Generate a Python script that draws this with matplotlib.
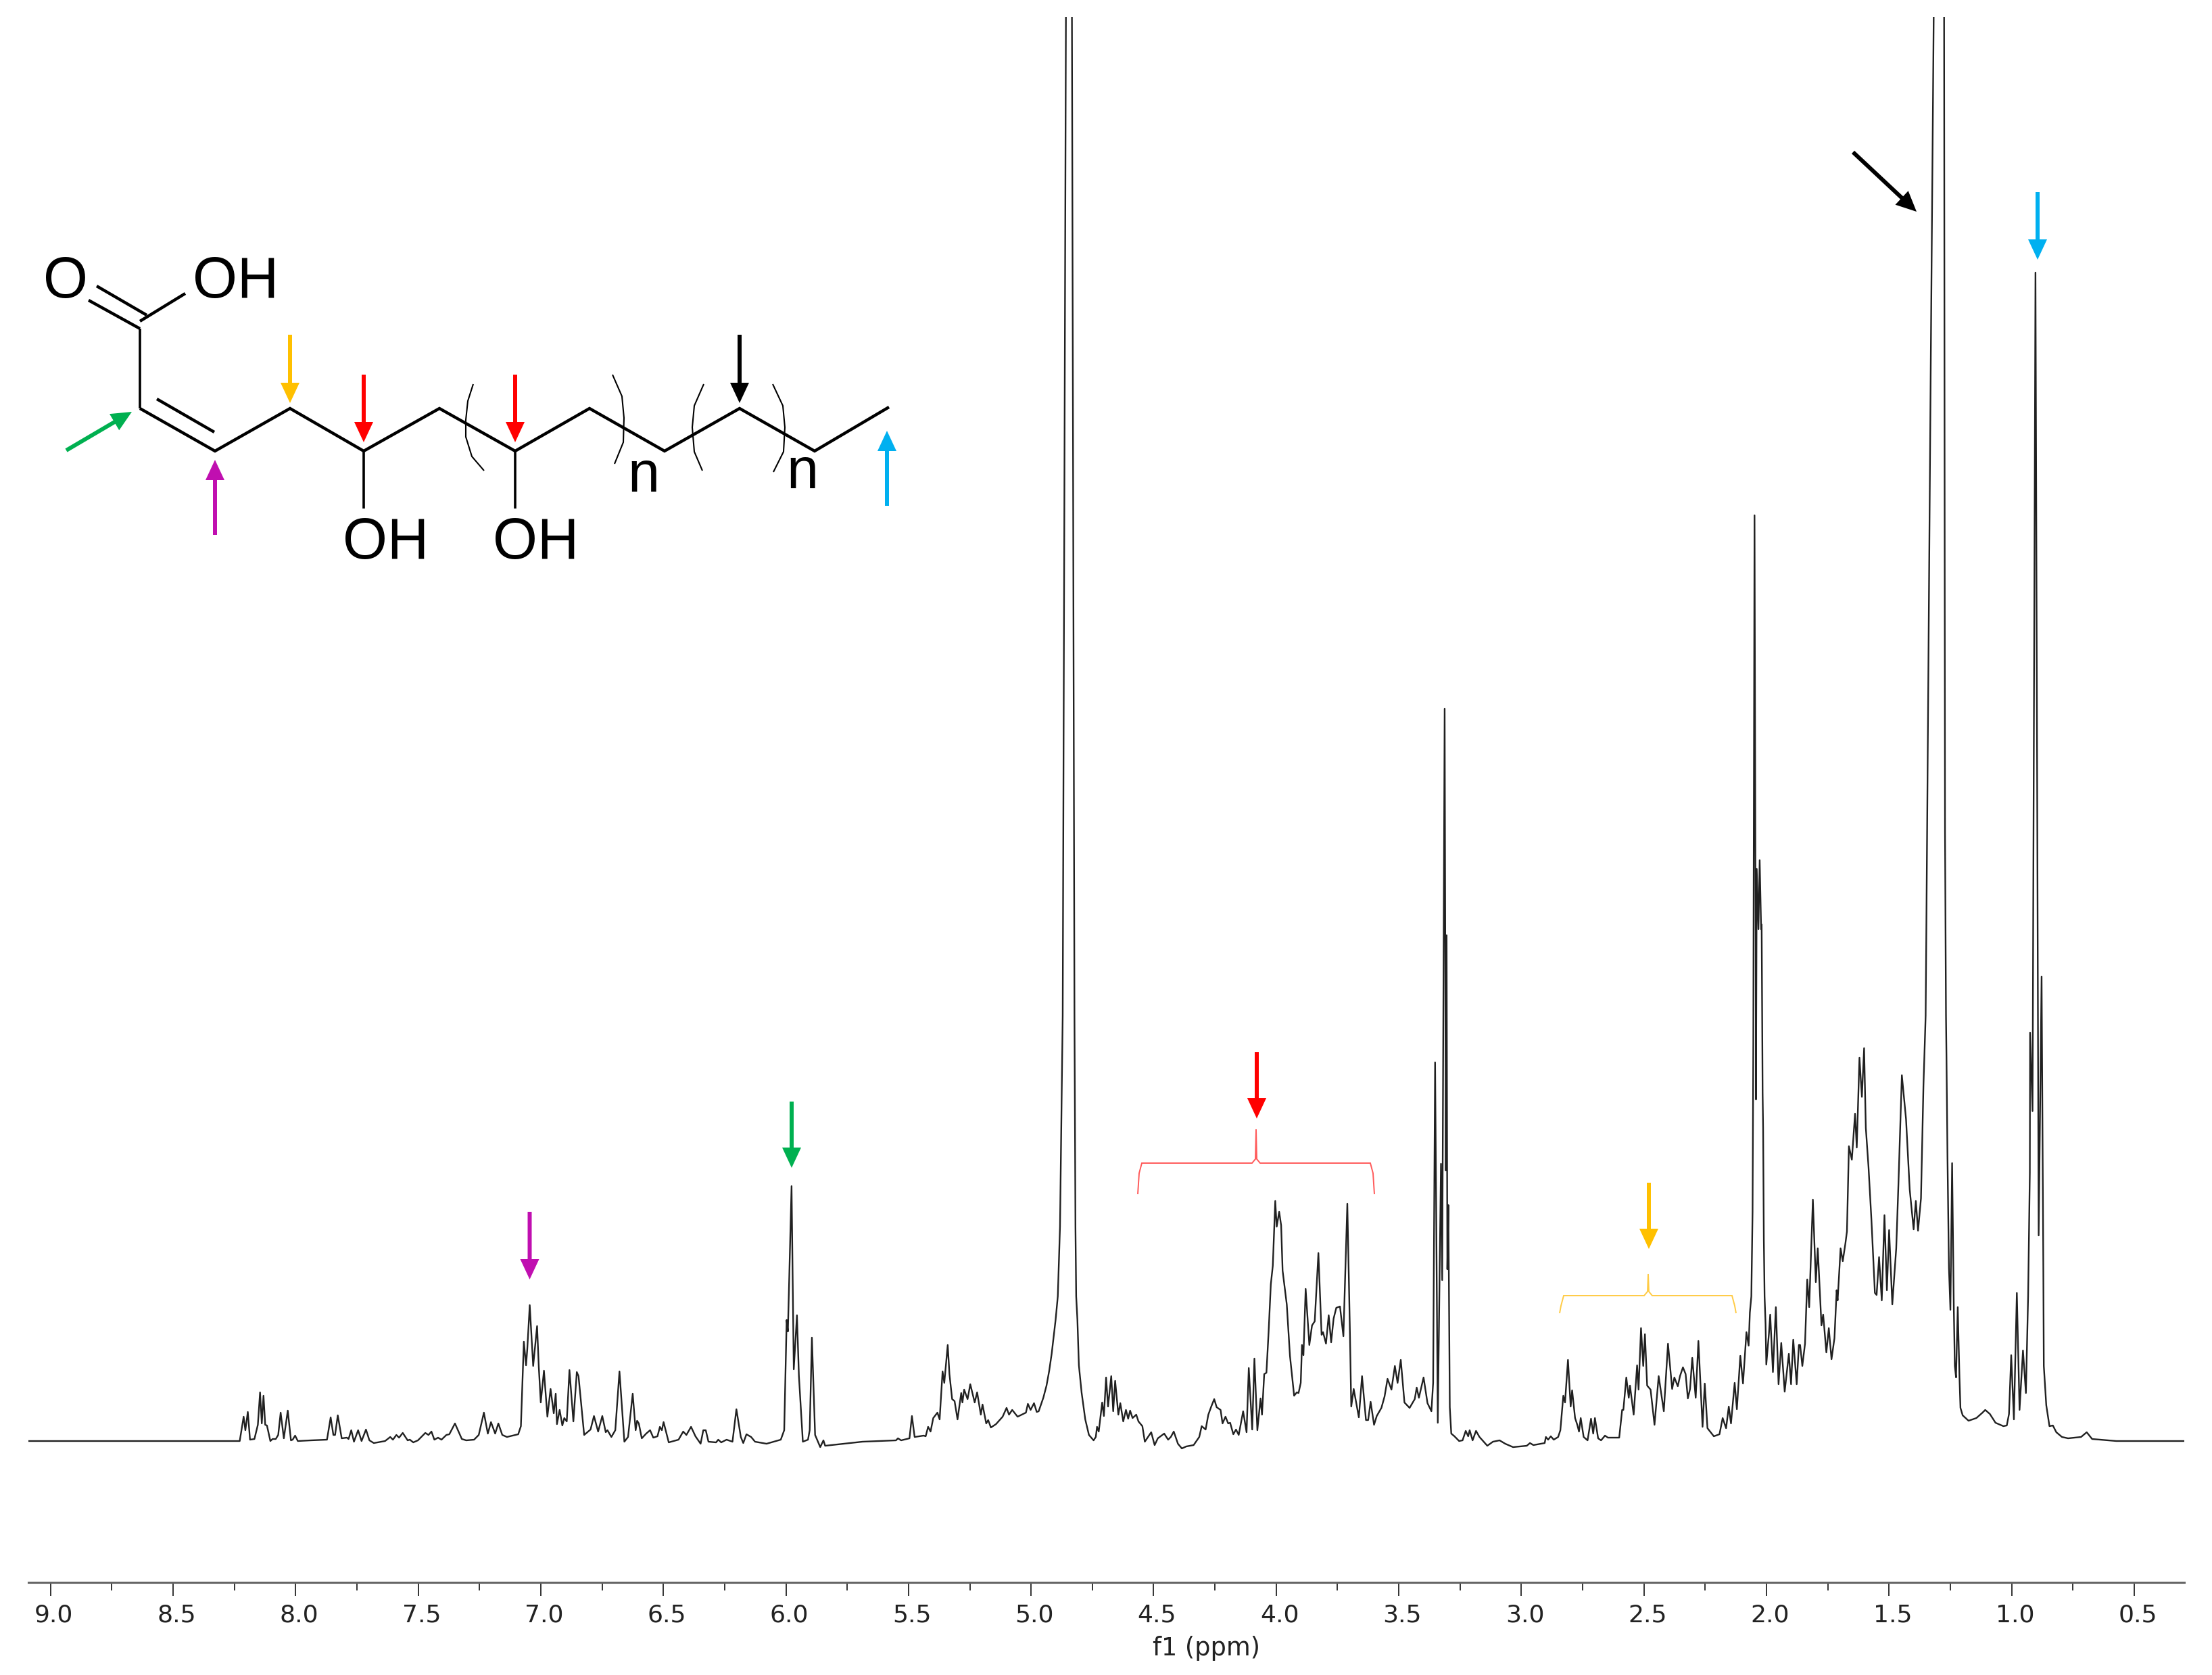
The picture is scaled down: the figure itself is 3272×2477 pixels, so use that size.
import numpy as np
import matplotlib
matplotlib.use("Agg")
import matplotlib.pyplot as plt
from matplotlib.patches import Polygon
from matplotlib.transforms import ScaledTranslation

# chemical shift (ppm) and intensity (arbitrary units)
ppm_aromatic = [9.09,8.27,8.228,8.212,8.205,8.195,8.186,8.168,8.154,8.145,8.138,8.131,8.124,8.117,8.103,8.094,8.081,8.071,8.061,8.048,8.032,8.019,8.012,8.002,7.991,7.938,7.872,7.857,7.846,7.839,7.828,7.812,7.791,7.784,7.773,7.762,7.745,7.731,7.713,7.699,7.681,7.635,7.614,7.603,7.589,7.578,7.563,7.543,7.534,7.520,7.501,7.471,7.458,7.446,7.434,7.419,7.405,7.385,7.373,7.350,7.322,7.304,7.272,7.253,7.232,7.216,7.203,7.186,7.173,7.157,7.138,7.092,7.081]
int_aromatic = [0,0,0,36,16,43,2,3,24,72,26,67,24,23,0,3,3,9,42,4,45,1,2,8,0,1,2,35,9,9,38,4,5,3,16,-1,16,0,17,1,-3,0,6,2,9,5,12,1,2,-2,1,12,9,14,2,5,2,9,10,26,3,1,2,9,42,11,28,11,26,9,6,10,22]

ppm_vinyl = [7.069,7.060,7.055,7.045,7.031,7.015,7.008,7.0,6.987,6.973,6.960,6.947,6.939,6.934,6.923,6.912,6.904,6.894,6.883,6.867,6.853,6.846,6.823,6.797,6.783,6.766,6.749,6.735,6.728,6.712,6.696,6.679,6.659,6.644,6.625,6.613,6.607,6.600,6.588,6.570,6.554,6.541,6.524,6.514,6.506,6.499,6.478,6.438,6.419,6.406,6.387,6.369,6.348,6.337,6.327,6.316,6.285,6.276,6.264,6.242,6.218,6.202,6.184,6.174,6.161,6.142,6.126,6.079,6.021,6.007,5.997,5.992,5.977,5.968,5.955,5.947,5.931,5.910,5.903,5.894,5.881,5.860,5.847,5.840,5.688,5.551,5.543,5.530]
int_vinyl = [147,112,136,201,111,170,109,57,104,36,77,41,70,25,46,23,34,29,105,29,102,96,9,17,37,14,37,13,16,6,16,103,-1,6,70,16,30,26,4,11,16,5,7,21,16,28,-2,2,14,9,21,7,-4,16,16,-1,-2,2,-2,2,-1,47,6,-3,10,6,-1,-4,2,16,179,162,377,106,186,96,-1,2,16,153,9,-9,1,-7,-1,1,4,1]

ppm_pre_water = [5.496,5.486,5.475,5.438,5.430,5.420,5.410,5.399,5.382,5.373,5.361,5.354,5.340,5.333,5.322,5.312,5.300,5.285,5.280,5.273,5.259,5.248,5.230,5.220,5.205,5.198,5.183,5.175,5.164,5.143,5.116,5.100,5.090,5.077,5.055,5.021,5.013,5.002,4.988,4.977,4.969,4.950,4.937,4.926,4.916,4.900]
int_pre_water = [4,37,6,8,7,21,14,34,42,32,103,86,142,99,62,59,32,71,57,76,62,84,57,72,39,54,26,31,20,25,36,49,39,46,36,42,55,46,56,43,44,64,82,104,129,179]

ppm_water = [4.891,4.882,4.874,4.871,4.857,4.845,4.834,4.823,4.819,4.816,4.811,4.805,4.794,4.779,4.764,4.745]
int_water = [214,317,540,629,2200,4000,2200,629,317,214,179,112,72,32,9,1]

ppm_oligo = [4.736,4.731,4.724,4.710,4.703,4.694,4.686,4.673,4.665,4.657,4.644,4.636,4.624,4.613,4.604,4.596,4.586,4.571,4.562,4.546,4.536,4.510,4.496,4.483,4.457,4.441,4.430,4.418,4.401,4.385,4.367,4.337,4.314,4.304,4.288,4.277,4.265,4.253,4.243,4.227,4.219,4.207,4.196,4.188,4.175,4.164,4.153,4.135,4.121,4.112,4.098,4.089,4.077,4.064,4.058]
int_oligo = [6,21,14,57,37,94,51,96,44,89,39,56,29,46,33,45,34,39,29,22,-1,13,-6,4,11,2,6,14,-4,-11,-8,-6,6,22,17,39,51,62,50,46,26,36,26,27,10,17,9,44,13,108,17,122,16,63,39]

ppm_choh = [4.049,4.040,4.031,4.022,4.014,4.004,3.998,3.988,3.980,3.974,3.957,3.944,3.927,3.916,3.909,3.900,3.895,3.889,3.880,3.865,3.854,3.843,3.828,3.815,3.809,3.797,3.786,3.776,3.766,3.755,3.740,3.726,3.710,3.700,3.694,3.684,3.663,3.650,3.634,3.625,3.615,3.601,3.590,3.571,3.558,3.546,3.530,3.516,3.505,3.492,3.477,3.456,3.435,3.427,3.418,3.399,3.383,3.367,3.360]
int_choh = [99,101,162,232,259,355,317,339,319,252,202,126,67,72,71,86,142,127,225,142,171,177,278,157,161,144,186,146,181,197,199,155,351,172,51,77,35,96,31,31,58,24,37,49,66,92,76,111,86,120,57,49,62,79,64,94,56,44,86]

ppm_methanol = [3.352,3.341,3.328,3.323,3.313,3.308,3.305,3.302,3.298,3.292,3.286,3.273,3.254,3.240]
int_methanol = [560,27,410,238,1083,400,748,254,349,50,11,7,0,1]

ppm_ch2 = [3.227,3.217,3.211,3.199,3.185,3.171,3.139,3.116,3.089,3.066,3.034,2.978,2.965,2.951,2.905,2.900,2.891,2.880,2.868,2.850,2.841,2.829,2.822,2.810,2.799,2.793,2.781,2.772,2.765,2.758,2.746,2.730,2.716,2.707,2.700,2.687,2.675,2.659,2.647,2.601,2.589,2.584,2.572,2.562,2.557,2.542,2.528,2.522,2.512,2.503,2.496,2.487,2.473,2.457,2.440,2.419,2.402,2.385,2.376,2.362,2.353,2.341,2.330,2.321,2.312,2.303,2.289,2.278,2.261,2.252,2.241,2.215,2.192,2.179,2.165,2.154,2.145,2.130,2.121,2.107,2.096,2.082,2.073]
int_ch2 = [15,7,16,1,15,6,-7,-1,1,-4,-9,-7,-3,-6,-3,6,2,7,2,6,16,67,57,120,51,75,34,24,14,34,6,1,33,11,34,4,1,8,5,5,46,46,94,64,82,39,112,76,167,111,158,82,76,24,96,44,144,77,94,81,96,109,99,63,77,123,64,148,21,85,19,7,10,34,19,51,26,86,47,126,85,161,141]

ppm_acetate = [2.068,2.062,2.057,2.054,2.049,2.043,2.040,2.033,2.028,2.022,2.020,2.016,2.014,2.011,2.008]
int_acetate = [190,214,339,588,1369,505,846,757,859,757,764,515,463,297,214]

ppm_alkyl = [2.004,2.001,1.990,1.985,1.974,1.962,1.951,1.940,1.926,1.909,1.900,1.891,1.877,1.868,1.863,1.854,1.843,1.834,1.826,1.811,1.799,1.791,1.776,1.769,1.756,1.746,1.735,1.723,1.714,1.710,1.698,1.689,1.678,1.672,1.664,1.652,1.639,1.632,1.621,1.611,1.602,1.595,1.584,1.572,1.558,1.551,1.541,1.530,1.519,1.509,1.500,1.487,1.471,1.462,1.448,1.431,1.416,1.400,1.391,1.382,1.370,1.360,1.351]
int_alkyl = [173,113,160,187,102,198,84,145,73,129,84,150,84,142,142,111,144,239,198,357,235,285,171,187,131,167,121,152,223,208,285,266,293,310,436,416,484,434,567,509,581,463,405,326,219,216,272,208,334,223,312,202,285,380,541,476,372,313,355,311,359,525,629]

ppm_methylene = [1.345,1.330,1.316,1.295,1.276,1.272,1.268,1.266,1.262,1.256,1.250,1.243,1.236,1.232,1.227,1.220,1.213,1.209,1.200,1.176,1.144,1.119,1.108,1.089,1.066,1.034,1.020,1.011,1.002,0.991,0.979,0.968,0.954,0.942,0.933,0.926]
int_methylene = [900,1600,2200,4000,2200,900,629,567,422,256,194,411,194,111,94,198,94,49,38,30,34,42,46,40,27,22,23,40,127,32,219,46,134,71,214,397]

ppm_methyl = [0.925,0.915,0.903,0.890,0.878,0.871,0.869,0.859,0.846,0.832,0.818,0.795,0.770,0.717,0.694,0.672,0.573,0.296]
int_methyl = [604,488,1728,304,687,256,111,53,22,23,13,6,4,6,13,3,0,0]

major_ticks = [9.0,8.5,8.0,7.5,7.0,6.5,6.0,5.5,5.0,4.5,4.0,3.5,3.0,2.5,2.0,1.5,1.0,0.5]
minor_ticks = [8.75,8.25,7.75,7.25,6.75,6.25,5.75,5.25,4.75,4.25,3.75,3.25,2.75,2.25,1.75,1.25,0.75]
x_label = "f1 (ppm)"

ppm = np.concatenate([ppm_aromatic, ppm_vinyl, ppm_pre_water, ppm_water, ppm_oligo, ppm_choh,
                      ppm_methanol, ppm_ch2, ppm_acetate, ppm_alkyl, ppm_methylene, ppm_methyl])
intensity = np.concatenate([int_aromatic, int_vinyl, int_pre_water, int_water, int_oligo, int_choh,
                            int_methanol, int_ch2, int_acetate, int_alkyl, int_methylene, int_methyl])

W, H = 3273, 2477
fig = plt.figure(figsize=(W/100, H/100), dpi=100, facecolor="white")
plt.rcParams["font.family"] = ["DejaVu Sans"]

ax = fig.add_axes([42/W, (H-2340)/H, (3231-42)/W, (2340-25)/H])
ax.plot(ppm, intensity, color="#202020", lw=1.7, solid_joinstyle="round")
ax.set_xlim(9.09, 0.296)
ax.set_ylim(-209, 2106)
for s in ("top", "left", "right"):
    ax.spines[s].set_visible(False)
ax.spines["bottom"].set_color("#666666")
ax.spines["bottom"].set_linewidth(2.2)
ax.set_yticks([])
ax.set_xticks(major_ticks)
ax.set_xticklabels([f"{t:.1f}" for t in major_ticks], fontsize=26)
ax.set_xticks(minor_ticks, minor=True)
ax.tick_params(axis="x", which="major", length=14.5, width=1.4, color="#333333", pad=8, labelcolor="#222222")
ax.tick_params(axis="x", which="minor", length=8.5, width=1.4, color="#333333")
off = ScaledTranslation(5/100, 0, fig.dpi_scale_trans)
for lab in ax.get_xticklabels():
    lab.set_transform(lab.get_transform() + off)
fig.text(1785/W, 1-2438/H, x_label, fontsize=26.5, ha="center", va="center", color="#222222")

# overlay in image pixels for the drawn structure and the annotations
ov = fig.add_axes([0, 0, 1, 1], facecolor="none")
ov.set_xlim(0, W)
ov.set_ylim(H, 0)
ov.axis("off")

def arrow(x0, y0, x1, y1, color, shaft=6, hw=28, hl=30):
    d = np.array([x1-x0, y1-y0], float)
    L = np.hypot(*d)
    u = d/L
    n = np.array([-u[1], u[0]])
    a = np.array([x0, y0], float)
    b = np.array([x1, y1], float)
    base = b - u*hl
    pts = [a+n*shaft/2, base+n*shaft/2, base+n*hw/2, b, base-n*hw/2, base-n*shaft/2, a-n*shaft/2]
    ov.add_patch(Polygon(pts, closed=True, fc=color, ec="none", zorder=5))

YEL, RED, BLK, BLU, MAG, GRN = "#FFC000", "#FF0000", "#000000", "#00B0F0", "#C00FB0", "#00B050"
arrow(429, 495, 429, 596, YEL)
arrow(538, 554, 538, 654, RED)
arrow(762, 554, 762, 654, RED)
arrow(1094, 495, 1094, 596, BLK)
arrow(1312, 748, 1312, 637, BLU)
arrow(318, 791, 318, 680, MAG)
arrow(98, 666, 195, 609, GRN)
arrow(783.5, 1792, 783.5, 1892, MAG)
arrow(1171, 1629, 1171, 1727, GRN)
arrow(1859, 1556, 1859, 1654, RED)
arrow(2439, 1749, 2439, 1847, YEL)
arrow(2741, 225, 2835, 313, BLK)
arrow(3014, 284, 3014, 384, BLU)

def seg(xs, ys, lw=3.2, color="black"):
    ov.plot(xs, ys, color=color, lw=lw, solid_capstyle="butt", solid_joinstyle="miter")

# chain and bonds
seg([207, 318, 429, 538, 650, 762, 872, 983, 1094, 1205, 1315],
    [604, 667, 604, 667, 604, 667, 604, 667, 604, 667, 602])
seg([232, 317], [590, 639])
seg([207, 207], [486, 604], lw=2.6)
seg([131, 207], [444, 486])
seg([143, 217], [423, 466])
seg([207, 274], [475, 434])
seg([538, 538], [667, 752], lw=2.6)
seg([762, 762], [667, 752], lw=2.6)
# polymer brackets
seg([700, 692, 689, 689, 698, 716], [568, 593, 621, 646, 675, 696], lw=1.5)
seg([906, 920, 923, 922, 909], [554, 586, 618, 654, 686], lw=1.5)
seg([1041, 1027, 1024, 1027, 1039], [568, 600, 632, 668, 696], lw=1.5)
seg([1143, 1158, 1161, 1159, 1144], [568, 600, 632, 668, 698], lw=1.5)

for x, y, s in [(97, 418, "O"), (349, 418, "OH"), (571, 804, "OH"), (793, 804, "OH"),
                (952, 705, "n"), (1187, 700, "n")]:
    ov.text(x, y, s, family="Liberation Sans", fontsize=61, ha="center", va="center", color="black")

# group braces
def brace(x0, x1, xm, ybot, ymid, ytip, color):
    seg([x0, x0+2, x0+6, xm-6, xm-1, xm, xm+1, xm+6, x1-6, x1-2, x1],
        [ybot, ymid+15, ymid, ymid, ymid-6, ytip, ymid-6, ymid, ymid, ymid+15, ybot], lw=1.4, color=color)

brace(1683, 2033, 1858, 1766, 1720, 1670, "#FF5A5A")
brace(2307, 2568, 2438, 1942, 1916, 1884, "#FFCB45")

fig.savefig("out.png", dpi=100, facecolor="white")
